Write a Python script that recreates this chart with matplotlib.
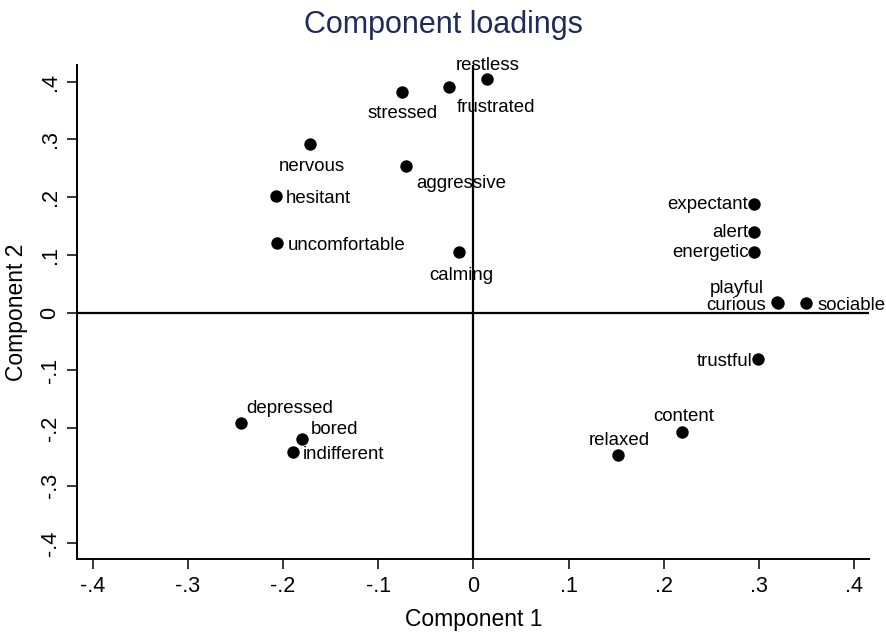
import matplotlib
matplotlib.use("Agg")
import matplotlib.pyplot as plt

plt.rcParams['font.family'] = ['Liberation Sans', 'DejaVu Sans']

# loadings
words = ['restless', 'frustrated', 'stressed', 'nervous', 'aggressive', 'hesitant',
         'uncomfortable', 'calming', 'expectant', 'alert', 'energetic', 'playful',
         'curious', 'sociable', 'trustful', 'depressed', 'bored', 'indifferent',
         'content', 'relaxed']
comp1 = [0.0143, -0.0253, -0.0747, -0.1714, -0.0708, -0.2074,
         -0.2067, -0.0151, 0.2952, 0.2952, 0.2949, 0.3190,
         0.3198, 0.3495, 0.2994, -0.2445, -0.1798, -0.1899,
         0.2195, 0.1523]
comp2 = [0.4049, 0.3915, 0.3818, 0.2917, 0.2546, 0.2026,
         0.1211, 0.1045, 0.1882, 0.1402, 0.1055, 0.0185,
         0.0172, 0.0172, -0.0804, -0.1908, -0.2196, -0.2411,
         -0.2075, -0.2468]

# label placement: (ha, dx px, dy px down) relative to marker, baseline aligned
place = {
    'restless': ('center', 1, -9), 'frustrated': ('left', 7, 25),
    'stressed': ('center', 0, 26), 'nervous': ('center', 2, 27),
    'aggressive': ('left', 10, 22), 'hesitant': ('left', 10, 7),
    'uncomfortable': ('left', 11, 7), 'calming': ('center', 2, 28),
    'expectant': ('right', -6, 5), 'alert': ('right', -6, 5),
    'energetic': ('right', -5, 5), 'playful': ('right', -13, -9),
    'curious': ('right', -12, 7), 'sociable': ('left', 11, 7),
    'trustful': ('right', -6, 7), 'depressed': ('left', 5, -10),
    'bored': ('left', 8, -5), 'indifferent': ('left', 10, 7),
    'content': ('center', 1, -11), 'relaxed': ('center', 1, -10),
}

ticks = [-0.4, -0.3, -0.2, -0.1, 0, 0.1, 0.2, 0.3, 0.4]
tick_labels = ['-.4', '-.3', '-.2', '-.1', '0', '.1', '.2', '.3', '.4']

fig = plt.figure(figsize=(8.86, 6.37), dpi=100)
ax = fig.add_axes([0.0872, 0.1220, 0.8940, 0.7760])

ax.axhline(0, color='black', lw=1.6, zorder=1)
ax.axvline(0, color='black', lw=1.6, zorder=1)
ax.scatter(comp1, comp2, s=80, color='black', zorder=3, linewidths=0)

px = 0.72
for w, x, y in zip(words, comp1, comp2):
    ha, dx, dy = place[w]
    ax.annotate(w, (x, y), xytext=(dx * px, -dy * px), textcoords='offset points',
                ha=ha, va='baseline', fontsize=13.4, color='black', zorder=4)

ax.set_xlim(-0.4163, 0.416)
ax.set_ylim(-0.4276, 0.429)
ax.set_xticks(ticks)
ax.set_xticklabels(tick_labels, fontsize=15.5)
ax.set_yticks(ticks)
ax.set_yticklabels(tick_labels, fontsize=15.5, rotation=90, va='center')
ax.tick_params(direction='out', length=7, width=1.1, pad=5)

for s in ['top', 'right']:
    ax.spines[s].set_visible(False)
for s in ['left', 'bottom']:
    ax.spines[s].set_linewidth(1.4)

ax.set_xlabel('Component 1', fontsize=16.5, labelpad=8)
ax.set_ylabel('Component 2', fontsize=16.5, labelpad=8)
fig.suptitle('Component loadings', fontsize=22, color='#1e2b58', y=0.985)

fig.savefig('out.png', dpi=100)
